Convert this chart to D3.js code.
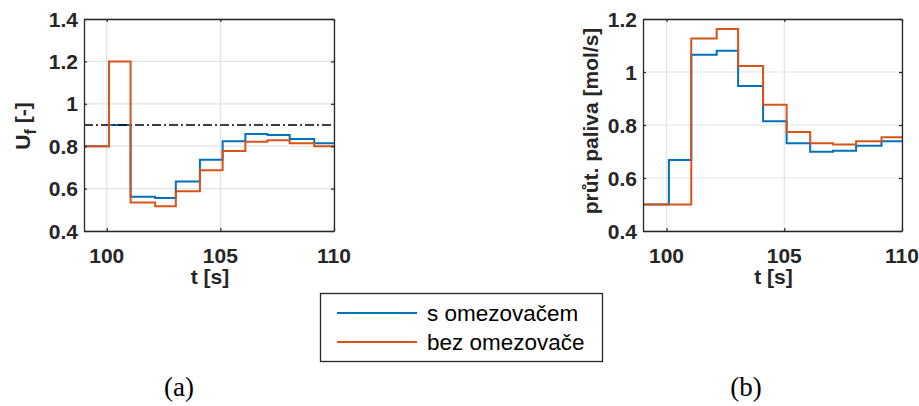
<!DOCTYPE html>
<html>
<head>
<meta charset="utf-8">
<script src="https://cdn.jsdelivr.net/npm/d3@7"></script>
<style>
  html, body { margin: 0; padding: 0; background: #fff; }
  svg { display: block; }
  .tickTxt { font-family: "Liberation Sans", Arial, sans-serif; font-weight: bold; font-size: 21px; fill: #262626; }
  .lblTxt { font-family: "Liberation Sans", Arial, sans-serif; font-weight: bold; font-size: 21px; fill: #262626; }
  .legTxt { font-family: "Liberation Sans", Arial, sans-serif; font-size: 22.5px; fill: #000; }
  .capTxt { font-family: "Liberation Serif", "Times New Roman", serif; font-size: 27px; fill: #000; }
</style>
</head>
<body>
<div id="chart_div"></div>
<script>
// step times (s) - each value holds from this time to the next one
var stepTimes = [99, 100.1, 101.05, 102.13, 103.04, 104.1, 105.1, 106.1, 107.07, 108.05, 109.13];
var tEnd = 110;

// (a) U_f [-]
var ufLimited = [0.8, 0.9, 0.562, 0.556, 0.634, 0.736, 0.823, 0.858, 0.853, 0.834, 0.814];
var ufFree    = [0.8, 1.2, 0.535, 0.517, 0.587, 0.686, 0.777, 0.821, 0.828, 0.814, 0.8];
var ufMax = 0.9;

// (b) prut. paliva [mol/s]
var fuelLimited = [0.5, 0.668, 1.065, 1.08, 0.947, 0.814, 0.731, 0.699, 0.703, 0.722, 0.739];
var fuelFree    = [0.5, 0.5, 1.126, 1.162, 1.023, 0.876, 0.774, 0.731, 0.726, 0.739, 0.754];

var xTicks = [100, 105, 110];
var ufTicks = [0.4, 0.6, 0.8, 1, 1.2, 1.4];
var fuelTicks = [0.4, 0.6, 0.8, 1, 1.2];

var seriesNames = ["s omezovačem", "bez omezovače"];
var seriesColors = ["#0072BD", "#D95319"];

var W = 919, H = 406;
var svg = d3.select("#chart_div").append("svg")
    .attr("width", W)
    .attr("height", H);

function toSteps(vals){
  var pts = stepTimes.map(function(t, i){ return [t, vals[i]]; });
  pts.push([tEnd, vals[vals.length - 1]]);
  return pts;
}

function drawPanel(opt){
  var x = d3.scaleLinear().domain([99, 110]).range([opt.left, opt.right]);
  var y = d3.scaleLinear().domain(opt.yDomain).range([opt.bottom, opt.top]);
  var g = svg.append("g");

  // grid
  g.selectAll(".vgrid").data(xTicks).enter().append("line")
    .attr("x1", function(d){ return x(d); }).attr("x2", function(d){ return x(d); })
    .attr("y1", opt.top).attr("y2", opt.bottom)
    .attr("stroke", "#e3e3e3").attr("stroke-width", 1.2);
  g.selectAll(".hgrid").data(opt.yTicks).enter().append("line")
    .attr("y1", function(d){ return y(d); }).attr("y2", function(d){ return y(d); })
    .attr("x1", opt.left).attr("x2", opt.right)
    .attr("stroke", "#e3e3e3").attr("stroke-width", 1.2);

  var line = d3.line()
    .x(function(d){ return x(d[0]); })
    .y(function(d){ return y(d[1]); })
    .curve(d3.curveStepAfter);

  g.append("path").datum(toSteps(opt.series[0]))
    .attr("d", line).attr("fill", "none")
    .attr("stroke", seriesColors[0]).attr("stroke-width", 2);

  if(opt.limit !== undefined){
    g.append("line")
      .attr("x1", opt.left).attr("x2", opt.right)
      .attr("y1", y(opt.limit)).attr("y2", y(opt.limit))
      .attr("stroke", "#000").attr("stroke-width", 1.6)
      .attr("stroke-dasharray", "9,3,2,3");
  }

  g.append("path").datum(toSteps(opt.series[1]))
    .attr("d", line).attr("fill", "none")
    .attr("stroke", seriesColors[1]).attr("stroke-width", 2);

  // axes (ticks inward, box on)
  var tl = 3;
  g.append("g").attr("transform", "translate(0," + opt.bottom + ")")
    .call(d3.axisBottom(x).tickValues(xTicks).tickSizeInner(-tl).tickSizeOuter(0).tickFormat(""));
  g.append("g").attr("transform", "translate(0," + opt.top + ")")
    .call(d3.axisTop(x).tickValues(xTicks).tickSizeInner(-tl).tickSizeOuter(0).tickFormat(""));
  g.append("g").attr("transform", "translate(" + opt.left + ",0)")
    .call(d3.axisLeft(y).tickValues(opt.yTicks).tickSizeInner(-tl).tickSizeOuter(0).tickFormat(""));
  g.append("g").attr("transform", "translate(" + opt.right + ",0)")
    .call(d3.axisRight(y).tickValues(opt.yTicks).tickSizeInner(-tl).tickSizeOuter(0).tickFormat(""));
  g.selectAll(".domain").attr("stroke", "#262626").attr("stroke-width", 1.3);
  g.selectAll(".tick line").attr("stroke", "#262626").attr("stroke-width", 1.2);

  // tick labels
  g.selectAll(".xlab").data(xTicks).enter().append("text")
    .attr("class", "tickTxt")
    .attr("x", function(d){ return x(d); })
    .attr("y", opt.bottom + 32)
    .attr("text-anchor", "middle")
    .text(function(d){ return d; });
  g.selectAll(".ylab").data(opt.yTicks).enter().append("text")
    .attr("class", "tickTxt")
    .attr("x", opt.left - 6)
    .attr("y", function(d){ return y(d); })
    .attr("dy", "0.36em")
    .attr("text-anchor", "end")
    .text(function(d){ return d; });

  // axis titles
  g.append("text").attr("class", "lblTxt")
    .attr("x", (opt.left + opt.right) / 2 + 1)
    .attr("y", opt.bottom + 53)
    .attr("text-anchor", "middle")
    .text("t [s]");

  var yl = g.append("text").attr("class", "lblTxt")
    .attr("transform", "translate(" + opt.yLabelX + "," + opt.yLabelY + ") rotate(-90)")
    .attr("text-anchor", "middle");
  opt.yLabel(yl);

  // caption
  svg.append("text").attr("class", "capTxt")
    .attr("x", opt.capX).attr("y", 396)
    .attr("text-anchor", "middle")
    .text(opt.caption);
}

drawPanel({
  left: 84, right: 334, top: 19, bottom: 231,
  yDomain: [0.4, 1.4], yTicks: ufTicks,
  series: [ufLimited, ufFree], limit: ufMax,
  yLabelX: 30, yLabelY: 126,
  yLabel: function(t){
    t.append("tspan").text("U");
    t.append("tspan").attr("dy", 6).attr("font-size", 16).text("f");
    t.append("tspan").attr("dy", -6).text(" [-]");
  },
  capX: 179, caption: "(a)"
});

drawPanel({
  left: 643, right: 902, top: 19, bottom: 231,
  yDomain: [0.4, 1.2], yTicks: fuelTicks,
  series: [fuelLimited, fuelFree],
  yLabelX: 598, yLabelY: 121,
  yLabel: function(t){ t.text("průt. paliva [mol/s]"); },
  capX: 746, caption: "(b)"
});

// legend
var leg = svg.append("g");
leg.append("rect")
  .attr("x", 320.5).attr("y", 293.5).attr("width", 282).attr("height", 68)
  .attr("fill", "#fff").attr("stroke", "#262626").attr("stroke-width", 1.3);
var legRows = [313, 342];
seriesNames.forEach(function(name, i){
  leg.append("line")
    .attr("x1", 337).attr("x2", 417)
    .attr("y1", legRows[i]).attr("y2", legRows[i])
    .attr("stroke", seriesColors[i]).attr("stroke-width", 2);
  leg.append("text").attr("class", "legTxt")
    .attr("x", 427).attr("y", legRows[i] + 8)
    .text(name);
});
</script>
</body>
</html>
